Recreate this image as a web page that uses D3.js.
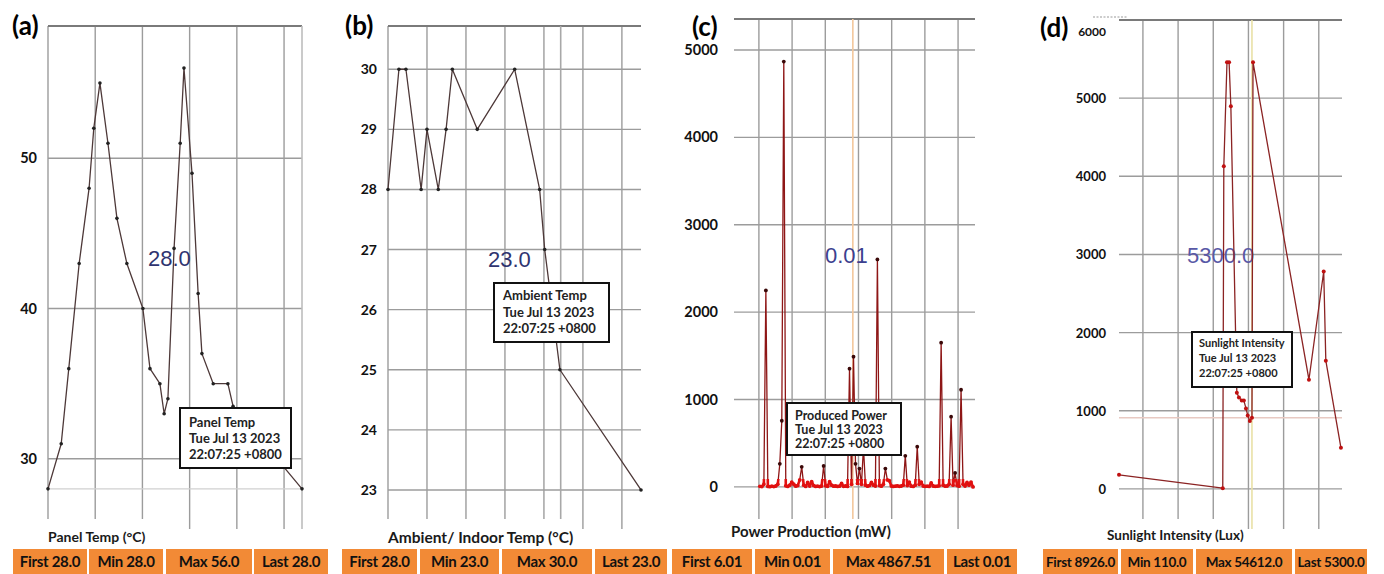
<!DOCTYPE html>
<html>
<head>
<meta charset="utf-8">
<script src="https://cdn.jsdelivr.net/npm/d3@7"></script>
<style>
  body { margin: 0; background: #fff; }
  svg { display: block; }
</style>
</head>
<body>
<div id="board"></div>
<script>
// DATA
// times are hours from the left edge of each plot
var aTimes  = [0, 0.28, 0.44, 0.66, 0.87, 0.97, 1.10, 1.27, 1.46, 1.67, 2.01, 2.16, 2.37, 2.46, 2.54, 2.67, 2.80, 2.88, 3.05, 3.18, 3.26, 3.50, 3.81, 3.92, 5.38];
var aValues = [28, 31, 36, 43, 48, 52, 55, 51, 46, 43, 40, 36, 35, 33, 34, 44, 51, 56, 49, 41, 37, 35, 35, 33.5, 28];

var bTimes  = [0, 0.28, 0.46, 0.85, 1.00, 1.29, 1.49, 1.65, 2.29, 3.25, 3.89, 4.02, 4.41, 6.49];
var bValues = [28, 30, 30, 28, 29, 28, 29, 30, 29, 30, 28, 27, 25, 23];

// power samples, evenly spaced
var cStart = 0.78, cStep = 0.06;
var cValues = [6.01, 3, 30, 2248, 5, 2, 8, 4, 10, 30,
               264, 757, 4867.51, 12, 5, 20, 55, 30, 8, 15,
               80, 230, 20, 5, 50, 10, 60, 15, 5, 8,
               4, 10, 240, 12, 6, 60, 20, 8, 10, 5,
               8, 40, 6, 10, 5, 1353, 30, 1490, 264, 40,
               210, 30, 450, 20, 8, 15, 50, 20, 10, 2603,
               15, 8, 30, 210, 80, 70, 10, 5, 8, 12,
               6, 10, 20, 355, 15, 55, 8, 5, 20, 460,
               30, 55, 10, 6, 8, 5, 45, 10, 6, 8,
               12, 1651, 20, 8, 10, 30, 803, 20, 160, 15,
               8, 1112, 30, 10, 50, 20, 55, 0.01];

var dTimes  = [0, 2.95, 2.98, 3.07, 3.13, 3.18, 3.35, 3.41, 3.49, 3.55, 3.61, 3.66, 3.72, 3.78, 3.81, 5.40, 5.82, 5.88, 6.31];
var dValues = [180, 10, 4128, 5460, 5460, 4897, 1230, 1170, 1130, 1130, 1030, 940, 870, 910, 5460, 1397, 2782, 1641, 526];

var panelLetters = ["(a)", "(b)", "(c)", "(d)"];
var axisTitles = ["Panel Temp (°C)", "Ambient/ Indoor Temp (°C)", "Power Production (mW)", "Sunlight Intensity (Lux)"];
var currentValues = ["28.0", "23.0", "0.01", "5300.0"];
var tipNames = ["Panel Temp", "Ambient Temp", "Produced Power", "Sunlight Intensity"];
var tipDate = "Tue Jul 13 2023";
var tipTime = "22:07:25 +0800";

var aTicks = [30, 40, 50];
var bTicks = [23, 24, 25, 26, 27, 28, 29, 30];
var cTicks = [0, 1000, 2000, 3000, 4000, 5000];
var dTicks = [0, 1000, 2000, 3000, 4000, 5000, 6000];

var aStats = ["First 28.0", "Min 28.0", "Max 56.0", "Last 28.0"];
var bStats = ["First 28.0", "Min 23.0", "Max 30.0", "Last 23.0"];
var cStats = ["First 6.01", "Min 0.01", "Max 4867.51", "Last 0.01"];
var dStats = ["First 8926.0", "Min 110.0", "Max 54612.0", "Last 5300.0"];

var W = 1384, H = 574;
var bottom = 529;
var svg = d3.select("#board").append("svg").attr("width", W).attr("height", H);

var boldFont = "Lato, 'Open Sans', sans-serif";

var panels = [
  { times: aTimes, values: aValues, ticks: aTicks, stats: aStats,
    left: 48, right: 302, top: 26, xMax: 5.38, yDom: [25.33, 58.8],
    grid: [0, 1, 2, 3, 4, 5], cursor: 5.38, cursorColor: "#bdbdbd", refLine: 28, refColor: "#d0d0d0",
    lblX: 37, lblSize: 14.5, letterX: 12, letterY: 35,
    line: "#4d3838", dot: function() { return "#222"; }, r: 1.8, base: null,
    valX: 148, valY: 266, valColor: "#2f3470",
    tip: [180, 408, 111, 60, 189, 427, 16, 13],
    title: [48, 542, 14], statSize: 15,
    cells: [[13, 87], [89, 163], [166, 252], [254, 328]] },
  { times: bTimes, values: bValues, ticks: bTicks, stats: bStats,
    left: 388, right: 641, top: 26, xMax: 6.49, yDom: [22.35, 30.72],
    grid: [0, 1, 2, 3, 4, 5, 6], cursor: 4.43, cursorColor: "#a8a8a8", refLine: null,
    lblX: 377, lblSize: 14, letterX: 345, letterY: 35,
    line: "#4d3838", dot: function() { return "#222"; }, r: 1.8, base: null,
    valX: 488, valY: 267, valColor: "#2f3470",
    tip: [494, 283, 115, 59, 503, 300, 16.5, 13],
    title: [388, 543, 15.5], statSize: 15,
    cells: [[342, 417], [420, 499], [502, 592], [595, 667]] },
  { times: cValues.map(function(v, i) { return cStart + i * cStep; }), values: cValues, ticks: cTicks, stats: cStats,
    left: 734, right: 975, top: 19, xMax: 7.26, yDom: [-482, 5355],
    grid: [0.75, 1.75, 2.75, 3.75, 4.75, 5.75, 6.75], cursor: 3.58, cursorColor: "#f3c79c", refLine: null,
    lblX: 718, lblSize: 14.5, letterX: 692, letterY: 36,
    line: "#8e1616", dot: function(v) { return v > 100 ? "#3a0808" : "#e01010"; }, r: 1.9, base: 90,
    valX: 825, valY: 263, valColor: "#3c3f8f",
    tip: [787, 403, 114, 52, 795, 420, 14, 12.5],
    title: [731, 537, 15], statSize: 15,
    cells: [[672, 752], [755, 830], [833, 944], [947, 1017]] },
  { times: dTimes, values: dValues, ticks: dTicks, stats: dStats,
    left: 1119, right: 1342, top: 20, xMax: 6.34, yDom: [-513, 6000],
    grid: [0.68, 1.68, 2.68, 3.68, 4.68, 5.68], cursor: 3.78, cursorColor: "#e9e1a6", refLine: 910, refColor: "#e8c9c2",
    lblX: 1106, lblSize: 13, letterX: 1040, letterY: 37,
    line: "#8b2323", dot: function() { return "#c01010"; }, r: 2, base: null,
    valX: 1187, valY: 263, valColor: "#5858a6",
    tip: [1192, 332, 100, 55, 1199, 347, 15, 11],
    title: [1107, 540, 13.5], statSize: 13.5,
    cells: [[1043, 1118], [1121, 1193], [1196, 1292], [1295, 1367]] }
];

panels.forEach(function(p, k) {
  var g = svg.append("g");
  var x = d3.scaleLinear().domain([0, p.xMax]).range([p.left, p.right]);
  var y = d3.scaleLinear().domain(p.yDom).range([bottom, p.top]);
  var yTop = p.yDom[1];

  // VERTICAL GRID
  g.selectAll(".vg").data(p.grid).enter().append("line")
    .attr("x1", function(d) { return x(d); }).attr("x2", function(d) { return x(d); })
    .attr("y1", p.top).attr("y2", bottom)
    .style("stroke", "#9c9c9c").style("stroke-width", 1.4);

  // HORIZONTAL GRID
  g.selectAll(".hg").data(p.ticks.filter(function(t) { return y(t) > p.top + 2; })).enter().append("line")
    .attr("x1", p.left).attr("x2", p.right)
    .attr("y1", function(d) { return y(d); }).attr("y2", function(d) { return y(d); })
    .style("stroke", "#9c9c9c").style("stroke-width", 1.4);

  // TOP BORDER
  g.append("line").attr("x1", p.left).attr("x2", p.right).attr("y1", y(yTop)).attr("y2", y(yTop))
    .style("stroke", "#7a7a7a").style("stroke-width", 2);

  if (p.refLine !== null) {
    g.append("line").attr("x1", p.left).attr("x2", p.right)
      .attr("y1", y(p.refLine)).attr("y2", y(p.refLine))
      .style("stroke", p.refColor).style("stroke-width", 1.4);
  }
  g.append("line").attr("x1", x(p.cursor)).attr("x2", x(p.cursor)).attr("y1", p.top).attr("y2", bottom)
    .style("stroke", p.cursorColor).style("stroke-width", 1.6);

  // Y LABELS
  g.selectAll(".yl").data(p.ticks).enter().append("text")
    .attr("x", p.lblX)
    .attr("y", function(d) { return d === 6000 ? y(d) + 16 : y(d) + 5; })
    .style("text-anchor", "end")
    .style("font-family", boldFont).style("font-weight", 700)
    .style("font-size", function(d) { return d === 6000 ? "12px" : p.lblSize + "px"; })
    .style("fill", "#111")
    .text(function(d) { return d; });
  if (k === 3) {
    g.append("line").attr("x1", p.lblX - 13).attr("x2", p.lblX + 21).attr("y1", 17).attr("y2", 17)
      .style("stroke", "#999").style("stroke-width", 1).style("stroke-dasharray", "2,1.5");
  }

  // PANEL LETTER
  g.append("text").attr("x", p.letterX).attr("y", p.letterY)
    .style("font-family", boldFont).style("font-weight", 700).style("font-size", "26px")
    .style("fill", "#000").text(panelLetters[k]);

  // CURRENT VALUE
  g.append("text").attr("x", p.valX).attr("y", p.valY)
    .style("font-family", "'Liberation Sans', Arial, sans-serif").style("font-size", "22px")
    .style("fill", p.valColor).text(currentValues[k]);

  // SERIES
  var pts = p.times.map(function(t, i) { return [t, p.values[i]]; });
  var lineGen = d3.line().x(function(d) { return x(d[0]); }).y(function(d) { return y(d[1]); });
  g.append("path").datum(pts).attr("d", lineGen)
    .style("fill", "none").style("stroke", p.line).style("stroke-width", 1.3)
    .style("stroke-linejoin", "round");
  if (p.base !== null) {
    // bright red band where the series hugs zero
    svg.append("clipPath").attr("id", "base" + k).append("rect")
      .attr("x", p.left).attr("y", y(p.base)).attr("width", p.right - p.left).attr("height", bottom - y(p.base));
    g.append("path").datum(pts).attr("d", lineGen)
      .attr("clip-path", "url(#base" + k + ")")
      .style("fill", "none").style("stroke", "#e21212").style("stroke-width", 2.6)
      .style("stroke-linejoin", "round");
  }
  g.selectAll(".pt").data(pts).enter().append("circle")
    .attr("cx", function(d) { return x(d[0]); }).attr("cy", function(d) { return y(d[1]); })
    .attr("r", p.r).style("fill", function(d) { return p.dot(d[1]); });

  // TOOLTIP
  var tp = p.tip;
  g.append("rect").attr("x", tp[0]).attr("y", tp[1]).attr("width", tp[2]).attr("height", tp[3])
    .style("fill", "#fff").style("stroke", "#111").style("stroke-width", 2);
  [tipNames[k], tipDate, tipTime].forEach(function(s, i) {
    g.append("text").attr("x", tp[4]).attr("y", tp[5] + i * tp[6])
      .style("font-family", boldFont).style("font-weight", 700).style("font-size", tp[7] + "px")
      .style("fill", "#222").text(s);
  });

  // AXIS TITLE
  var title = g.append("text").attr("x", p.title[0]).attr("y", p.title[1])
    .style("font-family", boldFont).style("font-weight", 700).style("font-size", p.title[2] + "px")
    .style("fill", "#1a1a1a").text(axisTitles[k]);
  var bb = title.node().getBBox();
  g.insert("rect", function() { return title.node(); })
    .attr("x", bb.x - 3).attr("y", 519).attr("width", bb.width + 6).attr("height", 29)
    .style("fill", "#fff");

  // STATS BAR
  p.cells.forEach(function(c, i) {
    g.append("rect").attr("x", c[0]).attr("y", 549).attr("width", c[1] - c[0]).attr("height", 25)
      .style("fill", "#f28a36");
    g.append("text").attr("x", (c[0] + c[1]) / 2).attr("y", 567)
      .style("text-anchor", "middle")
      .style("font-family", boldFont).style("font-weight", 700).style("font-size", p.statSize + "px")
      .style("letter-spacing", "-0.3px")
      .style("fill", "#111").text(p.stats[i]);
  });
});
</script>
</body>
</html>
